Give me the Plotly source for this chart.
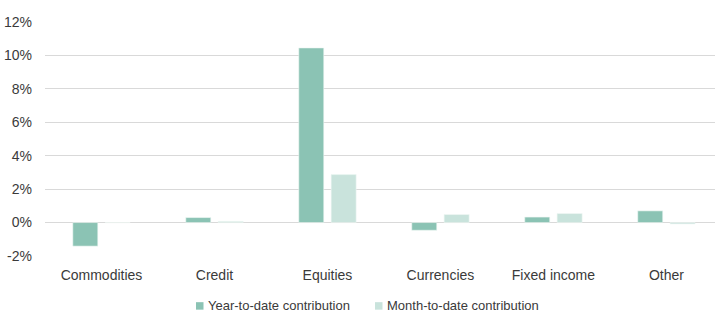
import plotly.graph_objects as go

categories = ["Commodities", "Credit", "Equities", "Currencies", "Fixed income", "Other"]
ytd_values = [-1.41, 0.30, 10.45, -0.46, 0.33, 0.70]
mtd_values = [0.0, 0.07, 2.87, 0.48, 0.54, -0.08]
y_ticks = [-2, 0, 2, 4, 6, 8, 10, 12]
y_tick_labels = [f"{v}%" for v in y_ticks]
series_names = ["Year-to-date contribution", "Month-to-date contribution"]
series_colors = ["#8bc3b4", "#c9e3dc"]

font_family = "Liberation Sans Narrow, Liberation Sans, Arial, sans-serif"
text_color = "#3a3a3a"

fig = go.Figure()
for name, vals, col in zip(series_names, [ytd_values, mtd_values], series_colors):
    fig.add_trace(go.Bar(
        x=categories, y=vals, name=name, showlegend=False,
        marker=dict(color=col, line=dict(color="#eef6f3", width=0.6)),
    ))

# manual legend (square swatch + text)
legend_x = [196, 375]  # pixel positions of swatches
W, H = 715, 313
L, R, T, B = 45, 0, 21.6, 57.25
pw, ph = W - L - R, H - T - B
legend_y_px = 305.7
for name, col, px in zip(series_names, series_colors, legend_x):
    x0 = (px - L) / pw
    x1 = (px + 7.5 - L) / pw
    yc = (H - B - legend_y_px) / ph
    fig.add_shape(type="rect", xref="paper", yref="paper",
                  x0=x0, x1=x1, y0=yc - 3.75 / ph, y1=yc + 3.75 / ph,
                  fillcolor=col, line=dict(width=0))
    fig.add_annotation(xref="paper", yref="paper", x=(px + 10 - L) / pw, y=yc,
                       xanchor="left", yanchor="middle", text=name, showarrow=False,
                       font=dict(size=13, color=text_color))

fig.update_layout(
    width=W, height=H,
    margin=dict(l=L, r=R, t=T, b=B),
    paper_bgcolor="white", plot_bgcolor="white",
    barmode="group", bargap=0.427, bargroupgap=0.228,
    font=dict(family=font_family, size=14, color=text_color),
    showlegend=False,
    xaxis=dict(
        range=[-0.5, 5.43], showgrid=False, showline=False, zeroline=False,
        ticks="", ticklabelstandoff=9, tickfont=dict(size=14), automargin=False,
    ),
    yaxis=dict(
        range=[-2, 12], tickvals=y_ticks, ticktext=y_tick_labels,
        showgrid=True, gridcolor="#d9d9d9", gridwidth=1,
        zeroline=True, zerolinecolor="#d9d9d9", zerolinewidth=1,
        showline=False, ticks="", ticklabelstandoff=12, tickfont=dict(size=14),
        automargin=False,
    ),
)

fig.write_html("out.html", config={"displayModeBar": False},
               post_script="document.body.style.margin='0';")
